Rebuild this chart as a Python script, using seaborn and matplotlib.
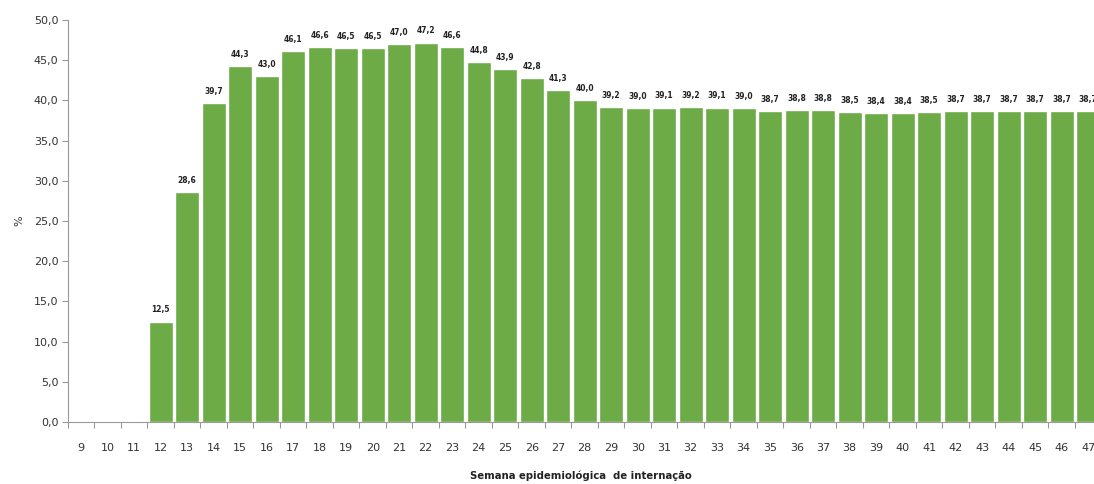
import matplotlib
matplotlib.use("Agg")
import matplotlib.pyplot as plt
from matplotlib.ticker import FixedLocator, FuncFormatter
import numpy as np
import pandas as pd
import seaborn as sns

# Epidemiological weeks of hospitalisation and the percentage for each
weeks = list(range(9, 48))
pct = [np.nan, np.nan, np.nan,
       12.5, 28.6, 39.7, 44.3, 43.0, 46.1, 46.6, 46.5, 46.5, 47.0, 47.2, 46.6,
       44.8, 43.9, 42.8, 41.3, 40.0, 39.2, 39.0, 39.1, 39.2, 39.1, 39.0, 38.7,
       38.8, 38.8, 38.5, 38.4, 38.4, 38.5, 38.7, 38.7, 38.7, 38.7, 38.7, 38.7]
week_labels = [str(w) for w in weeks]

df = pd.DataFrame({"semana": week_labels, "pct": pct})

sns.set_style("white")
plt.rcParams["font.family"] = ["DejaVu Sans"]

fig = plt.figure(figsize=(10.94, 4.84), dpi=100)
ax = fig.add_axes([68 / 1094, 1 - 422 / 484, 1 - 68 / 1094, (422 - 20) / 484])

bar_color = "#6cab45"
sns.barplot(data=df, x="semana", y="pct", order=week_labels, color=bar_color,
            saturation=1, width=0.9, errorbar=None, ax=ax)

# value labels above each bar
for i, v in enumerate(pct):
    if not np.isnan(v):
        ax.text(i, v + 0.9, f"{v:.1f}".replace(".", ","), ha="center", va="bottom",
                fontsize=6, fontweight="bold", color="#222222", stretch="condensed",
                family=["Liberation Sans Narrow", "DejaVu Sans"])

ax.set_ylim(0, 50)
ax.set_xlim(-0.5, 38.22)
ax.set_yticks(np.arange(0, 50.1, 5))
ax.yaxis.set_major_formatter(FuncFormatter(lambda y, _: f"{y:.1f}".replace(".", ",")))

# category labels centred, tick marks between categories
ax.set_xticks(range(len(weeks)))
ax.set_xticklabels(week_labels)
ax.xaxis.set_minor_locator(FixedLocator(np.arange(-0.5, len(weeks), 1)))
ax.tick_params(axis="x", which="major", length=0, pad=15, labelsize=8, labelcolor="#333333")
ax.tick_params(axis="x", which="minor", length=4, width=0.8, color="#999999", bottom=True)
ax.tick_params(axis="y", which="major", length=4, width=0.8, color="#999999", left=True,
               labelsize=8, labelcolor="#333333", pad=3)

for side in ("top", "right"):
    ax.spines[side].set_visible(False)
for side in ("left", "bottom"):
    ax.spines[side].set_color("#999999")
    ax.spines[side].set_linewidth(0.8)

ax.set_xlabel("Semana epidemiológica  de internação", fontsize=7.3, fontweight="bold",
              color="#222222", labelpad=13)
ax.set_ylabel("%", fontsize=8, color="#333333", labelpad=7)

fig.savefig("out.png", dpi=100)
